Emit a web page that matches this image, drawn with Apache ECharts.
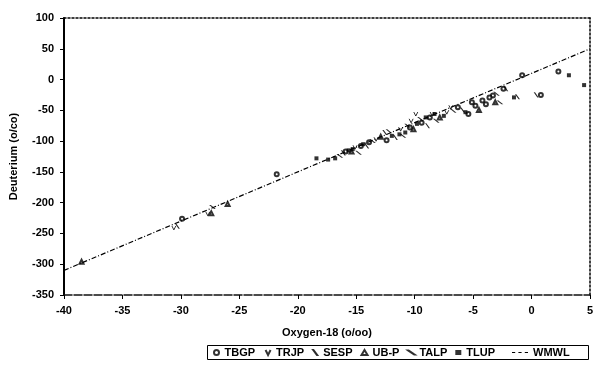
<!DOCTYPE html>
<html>
<head>
<meta charset="utf-8">
<script src="https://cdn.jsdelivr.net/npm/echarts@6/dist/echarts.min.js"></script>
<style>html,body{margin:0;padding:0;background:#fff;}#c{width:596px;height:373px;}</style>
</head>
<body>
<div id="c"></div>
<script>
// Oxygen-18 (x) vs Deuterium (y) pairs per station
var TBGP = [[-29.9,-226],[-21.8,-154],[-0.8,7],[2.3,13],[0.8,-25],[-2.4,-15],[-3.3,-26],[-3.6,-29],[-3.9,-40],[-4.2,-34],[-4.8,-42.5],[-5.1,-37],[-5.4,-56],[-6.3,-45],[-8.7,-61.5],[-9.4,-70],[-10.4,-78],[-12.4,-98.5],[-13.9,-102],[-14.6,-108],[-15.9,-117]];
var TRJP = [[-27.7,-218],[-30.6,-241],[-15.1,-110],[-13.3,-97],[-11.2,-80.6],[-10.3,-67],[-9.9,-56],[-8.5,-56],[-7.25,-53],[-6.9,-45]];
var SESP = [[-30.3,-238],[0.4,-25],[-1.2,-28],[-2.2,-15],[-5.9,-49.5],[-8.9,-75],[-11.65,-94],[-12.55,-86],[-14.1,-108],[-16.1,-119]];
var UBP  = [[-38.5,-296],[-26,-202],[-27.4,-217],[-15.4,-117],[-12.9,-93],[-10.1,-80.6],[-7.85,-61.5],[-4.5,-49.5],[-3.1,-37]];
var TALP = [[-27.3,-207],[-16.4,-124],[-14.8,-119],[-13.6,-100],[-12.2,-84],[-11.0,-91.5],[-10.6,-75],[-9.5,-64],[-8.15,-67],[-6.7,-50.6],[-3.0,-23],[-2.7,-37]];
var TLUP = [[-18.4,-128],[-17.4,-130],[-16.8,-128],[-15.65,-115],[-15.3,-113],[-14.4,-105],[-11.95,-91.5],[-11.3,-89],[-10.8,-86],[-9.8,-72],[-9.05,-61.5],[-8.3,-56],[-7.5,-59],[-5.65,-53],[-1.5,-29],[3.2,7],[4.5,-9]];
var WMWL = [[-40,-310],[5,50]];
var xTicks = {min:-40, max:5, step:5};
var yTicks = {min:-350, max:100, step:50};

var FONT = 'Liberation Sans';
var chart = echarts.init(document.getElementById('c'));
var sym = {color:'none', borderColor:'#000', borderWidth:1};
chart.setOption({
  animation:false,
  textStyle:{fontFamily:FONT},
  grid:{left:64, right:3, top:18, bottom:78},
  xAxis:[{
    type:'value', min:xTicks.min, max:xTicks.max, interval:xTicks.step,
    name:'Oxygen-18 (o/oo)', nameLocation:'middle', nameGap:32,
    nameTextStyle:{fontSize:11, fontWeight:'bold', color:'#000', fontFamily:FONT},
    axisLine:{onZero:false, lineStyle:{color:'#111', width:1.5, type:[8,2]}},
    axisTick:{show:true, length:4, lineStyle:{color:'#000'}},
    axisLabel:{fontSize:11, fontWeight:'bold', color:'#000', margin:10, fontFamily:FONT},
    splitLine:{show:false}
  },{
    type:'value', position:'top', min:xTicks.min, max:xTicks.max,
    axisLine:{show:true, onZero:false, lineStyle:{color:'#000', width:1.5, type:[2,2]}},
    axisTick:{show:false}, axisLabel:{show:false}, splitLine:{show:false}
  }],
  yAxis:[{
    type:'value', min:yTicks.min, max:yTicks.max, interval:yTicks.step,
    name:'Deuterium (o/co)', nameLocation:'middle', nameGap:45,
    nameTextStyle:{fontSize:11, fontWeight:'bold', color:'#000', fontFamily:FONT},
    axisLine:{show:true, onZero:false, lineStyle:{color:'#000', width:2}},
    axisTick:{show:true, length:4, lineStyle:{color:'#000'}},
    axisLabel:{fontSize:11, fontWeight:'bold', color:'#000', margin:10, fontFamily:FONT},
    splitLine:{show:false}
  },{
    type:'value', position:'right', min:yTicks.min, max:yTicks.max,
    axisLine:{show:true, onZero:false, lineStyle:{color:'#000', width:1.5, type:[2,2]}},
    axisTick:{show:false}, axisLabel:{show:false}, splitLine:{show:false}
  }],
  legend:[{
    left:213, top:347, itemWidth:6, itemHeight:5, itemGap:8, padding:0,
    textStyle:{fontSize:11, fontWeight:'bold', color:'#000', fontFamily:FONT},
    data:['TBGP','TRJP','SESP','UB-P','TALP','TLUP']
  },{
    left:512, top:347, itemWidth:16, itemHeight:6, itemGap:0, padding:0,
    textStyle:{fontSize:11, fontWeight:'bold', color:'#000', fontFamily:FONT},
    data:[{name:'WMWL', icon:'path://M0,2 L3,2 L3,3 L0,3 Z M6,2 L9,2 L9,3 L6,3 Z M12,2 L15,2 L15,3 L12,3 Z M0,0 L0.01,0 L0.01,0.01 Z M15,5 L15.01,5 L15.01,5.01 Z'}],
    itemStyle:{color:'#000'}
  }],
  graphic:[{type:'rect', shape:{x:207.5, y:345.5, width:381, height:14}, style:{fill:'none', stroke:'#000', lineWidth:1}, silent:true}],
  series:[
    {name:'TBGP', type:'scatter', data:TBGP, symbol:'emptyCircle', symbolSize:4, itemStyle:{color:'#000', borderWidth:1}},
    {name:'TRJP', type:'scatter', data:TRJP, symbol:'path://M0,0 L3,6 L6,0', symbolSize:[4,4], itemStyle:sym},
    {name:'SESP', type:'scatter', data:SESP, symbol:'path://M0,0 L3,4 L3.2,4 L0.2,0 Z', symbolSize:[3,4], itemStyle:{color:'#000', borderColor:'#000', borderWidth:1}},
    {name:'UB-P', type:'scatter', data:UBP, symbol:'emptyTriangle', symbolSize:4, itemStyle:{color:'#000', borderWidth:1}},
    {name:'TALP', type:'scatter', data:TALP, symbol:'path://M0,0 L6,4 L6.2,4 L0.2,0 Z', symbolSize:[4,3], itemStyle:{color:'#000', borderColor:'#000', borderWidth:1}},
    {name:'TLUP', type:'scatter', data:TLUP, symbol:'rect', symbolSize:4, itemStyle:{color:'#000'}},
    {name:'WMWL', type:'line', data:WMWL, symbol:'none', lineStyle:{color:'#000', width:1.2, type:[5,2,1,2]}, itemStyle:{color:'#000'}}
  ]
});
</script>
</body>
</html>
